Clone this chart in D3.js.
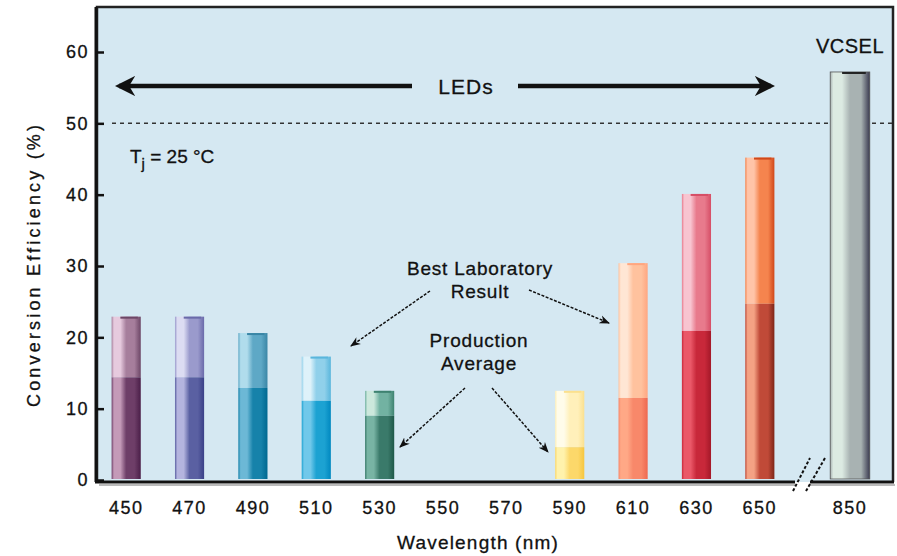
<!DOCTYPE html>
<html><head><meta charset="utf-8">
<script src="https://cdn.jsdelivr.net/npm/d3@7"></script>
<style>body{margin:0;background:#fff}text{font-family:"Liberation Sans",Arial,sans-serif;fill:#111;stroke:#111;stroke-width:0.3px}</style>
</head><body><svg id="c" width="897" height="556"></svg>
<script>
// ---- data ----
const ledCategories = ["450","470","490","510","530","550","570","590","610","630","650"];
const vcselCategories = ["850"];
const bestLab = [22.9, 22.9, 20.6, 17.3, 12.5, null, null, 12.5, 30.4, 40.1, 45.2];
const prodAvg = [14.4, 14.4, 12.9, 11.1, 9.0, null, null, 4.6, 11.5, 20.9, 24.7];
const vcselValue = [57.2];
const yTicks = [0, 10, 20, 30, 40, 50, 60];
const thresholdValue = 50;
// colours: [highlight, base, dark]
const topColors = [
  ["#e6cade","#a67e9c","#6c4666"],["#dcdcf2","#9a9acc","#6a6aaa"],["#b0dcec","#5ea8c6","#3a86a6"],
  ["#def2fa","#90d0ea","#5ab6dc"],["#cce8dc","#72b2a2","#3e8270"],null,null,
  ["#fffcea","#fff0ba","#fbe08e"],["#ffe6d4","#ffc29e","#ffa680"],["#f8c4d0","#e87a8c","#d64e66"],
  ["#ffc4a8","#f5844e","#d0481a"]
];
const bottomColors = [
  ["#c49ab8","#6e3e68","#4a1e48"],["#b4b4de","#5a60a2","#3a4088"],["#6cb8d6","#1682aa","#006890"],
  ["#70c8ea","#1ca2d2","#0088c0"],["#78b4a4","#3a7a6a","#1e5848"],null,null,
  ["#fff2ac","#fcd86a","#f6c63e"],["#ffa886","#f8886a","#ee6850"],["#ea5868","#c8283a","#a41828"],
  ["#f4a284","#c04a38","#7e2618"]
];
const vcselColors = [["#dceae2","#a8b2b2","#3a3a50"]];
const ledLabel = "LEDs";

// ---- layout ----
const svg = d3.select("#c");
const L = 97, R = 893, T = 7, B = 482;
const y = d3.scaleLinear().domain([0, 60]).range([480, 52]);
const ledX = d3.scaleBand().domain(ledCategories).range([94.5, 791.5]).paddingInner(0.54).paddingOuter(0.27);
const vcX = d3.scaleBand().domain(vcselCategories).range([807, 893]).paddingInner(0.54).paddingOuter(0.27);

const defs = svg.append("defs");
function grad(id, c) {
  const g = defs.append("linearGradient").attr("id", id).attr("x1","0").attr("x2","1").attr("y1","0").attr("y2","0");
  [[0,c[1]],[0.08,c[0]],[0.3,c[0]],[0.5,c[1]],[0.78,c[1]],[1,c[2]]].forEach(s =>
    g.append("stop").attr("offset", s[0]).attr("stop-color", s[1]));
  return `url(#${id})`;
}
defs.append("marker").attr("id","ah").attr("viewBox","0 0 10 10").attr("refX",9).attr("refY",5)
  .attr("markerWidth",7).attr("markerHeight",7).attr("orient","auto-start-reverse")
  .append("path").attr("d","M0,1 L10,5 L0,9 L3,5 Z").attr("fill","#111");
defs.append("marker").attr("id","big").attr("viewBox","0 0 10 10").attr("refX",8).attr("refY",5)
  .attr("markerWidth",4.5).attr("markerHeight",4.5).attr("orient","auto-start-reverse")
  .append("path").attr("d","M0,0 L10,5 L0,10 L3,5 Z").attr("fill","#111");

// background & frame
svg.append("rect").attr("x", L).attr("y", T).attr("width", R - L).attr("height", B - T).attr("fill", "#d5e8f2");
svg.append("line").attr("x1", L+2).attr("x2", 795).attr("y1", B+3).attr("y2", B+3).attr("stroke", "#bbb").attr("stroke-width", 2);
svg.append("line").attr("x1", 810).attr("x2", R+2).attr("y1", B+3).attr("y2", B+3).attr("stroke", "#bbb").attr("stroke-width", 2);
svg.append("path").attr("d", `M${L},${B} L${L},${T} L${R},${T} L${R},${B}`).attr("fill","none").attr("stroke","#222").attr("stroke-width",2.5);
svg.append("line").attr("x1", L-1).attr("x2", L-1).attr("y1", T).attr("y2", B).attr("stroke","#111").attr("stroke-width",3);
svg.append("line").attr("x1", L-2).attr("x2", 795).attr("y1", B).attr("y2", B).attr("stroke","#111").attr("stroke-width",3);
svg.append("line").attr("x1", 810).attr("x2", R+1).attr("y1", B).attr("y2", B).attr("stroke","#111").attr("stroke-width",3);
// break marks
[[793,491,810,458],[806,491,825,458]].forEach(d =>
  svg.append("line").attr("x1",d[0]).attr("y1",d[1]).attr("x2",d[2]).attr("y2",d[3])
    .attr("stroke","#111").attr("stroke-width",2).attr("stroke-dasharray","3,2"));

// threshold dashed line
svg.append("line").attr("x1", 112).attr("x2", R).attr("y1", y(thresholdValue)).attr("y2", y(thresholdValue))
  .attr("stroke","#333").attr("stroke-width",1.5).attr("stroke-dasharray","4,4");

// y axis
const yAxis = d3.axisLeft(y).tickValues(yTicks).tickSize(-7).tickPadding(8);
const ya = svg.append("g").attr("transform", `translate(${L},0)`).call(yAxis);
ya.select(".domain").remove();
ya.selectAll(".tick line").attr("stroke","#111").attr("stroke-width",2.5);
ya.selectAll("text").attr("font-size",18).attr("letter-spacing",1.5).attr("fill","#111").style("font-family","Liberation Sans, Arial");

// x axis
const xa = svg.append("g").attr("transform", `translate(0,${B})`).call(d3.axisBottom(ledX).tickSize(0).tickPadding(19));
xa.select(".domain").remove();
const xb = svg.append("g").attr("transform", `translate(0,${B})`).call(d3.axisBottom(vcX).tickSize(0).tickPadding(19));
xb.select(".domain").remove();
svg.selectAll("g.tick text").filter(function(){return this.parentNode.parentNode!==ya.node();})
  .attr("font-size",18).attr("letter-spacing",1.5).attr("fill","#111").style("font-family","Liberation Sans, Arial");

// bars
const ledData = ledCategories.map((c, i) => ({c, i, best: bestLab[i], prod: prodAvg[i]})).filter(d => d.best != null);
const bw = ledX.bandwidth();
const gBars = svg.append("g");
ledData.forEach(d => {
  const x0 = ledX(d.c);
  gBars.append("rect").attr("x", x0).attr("width", bw).attr("y", y(d.best)).attr("height", y(d.prod) - y(d.best))
    .attr("fill", grad("t"+d.i, topColors[d.i]));
  gBars.append("rect").attr("x", x0).attr("width", bw).attr("y", y(d.prod)).attr("height", y(0) - y(d.prod) - 1)
    .attr("fill", grad("b"+d.i, bottomColors[d.i]));
  gBars.append("rect").attr("x", x0 + bw*0.3).attr("width", bw*0.6).attr("y", y(d.best)).attr("height", 2)
    .attr("fill", topColors[d.i][2]);
});
vcselCategories.forEach((c, i) => {
  const x0 = vcX(c);
  gBars.append("rect").attr("x", x0).attr("width", vcX.bandwidth()).attr("y", y(vcselValue[i])).attr("height", y(0) - y(vcselValue[i]) - 1)
    .attr("fill", grad("v"+i, vcselColors[i])).attr("stroke","#555").attr("stroke-width",0.8);
  gBars.append("rect").attr("x", x0 + vcX.bandwidth()*0.3).attr("width", vcX.bandwidth()*0.6).attr("y", y(vcselValue[i])).attr("height", 2).attr("fill","#222");
  svg.append("text").attr("x", x0 + vcX.bandwidth()/2).attr("y", 53).attr("text-anchor","middle")
    .attr("font-size",20).attr("letter-spacing",0.5).text("VCSEL");
});

// axis titles
svg.append("text").attr("x", 478).attr("y", 549).attr("text-anchor","middle").attr("font-size",19)
  .attr("letter-spacing",1.2).text("Wavelength (nm)");
svg.append("text").attr("transform","translate(40,266) rotate(-90)").attr("text-anchor","middle").attr("font-size",18)
  .attr("textLength",282).attr("lengthAdjust","spacing").text("Conversion Efficiency (%)");

// LEDs arrow
const ly = 86;
svg.append("line").attr("x1", 412).attr("x2", 119).attr("y1", ly).attr("y2", ly).attr("stroke","#111").attr("stroke-width",4.5).attr("marker-end","url(#big)");
svg.append("line").attr("x1", 518).attr("x2", 771).attr("y1", ly).attr("y2", ly).attr("stroke","#111").attr("stroke-width",4.5).attr("marker-end","url(#big)");
svg.append("text").attr("x", 466).attr("y", 94).attr("text-anchor","middle").attr("font-size",21).attr("letter-spacing",1).text(ledLabel);

// Tj
const tj = svg.append("text").attr("x", 130).attr("y", 163).attr("font-size",19);
tj.append("tspan").text("T");
tj.append("tspan").attr("dy",6).attr("font-size",15).text("j");
tj.append("tspan").attr("dy",-6).text(" = 25 °C");

// annotations
function ann(lines, cx, y0) {
  lines.forEach((t, k) => svg.append("text").attr("x", cx).attr("y", y0 + k*23).attr("text-anchor","middle")
    .attr("font-size",19).attr("letter-spacing",0.8).text(t));
}
ann(["Best Laboratory","Result"], 480, 275);
ann(["Production","Average"], 479, 347);
[[430,291,351,346],[529,290,609,323],[465,388,400,447],[492,388,548,452]].forEach(d =>
  svg.append("line").attr("x1",d[0]).attr("y1",d[1]).attr("x2",d[2]).attr("y2",d[3])
    .attr("stroke","#111").attr("stroke-width",1.5).attr("stroke-dasharray","3,1.5").attr("marker-end","url(#ah)"));
</script></body></html>
